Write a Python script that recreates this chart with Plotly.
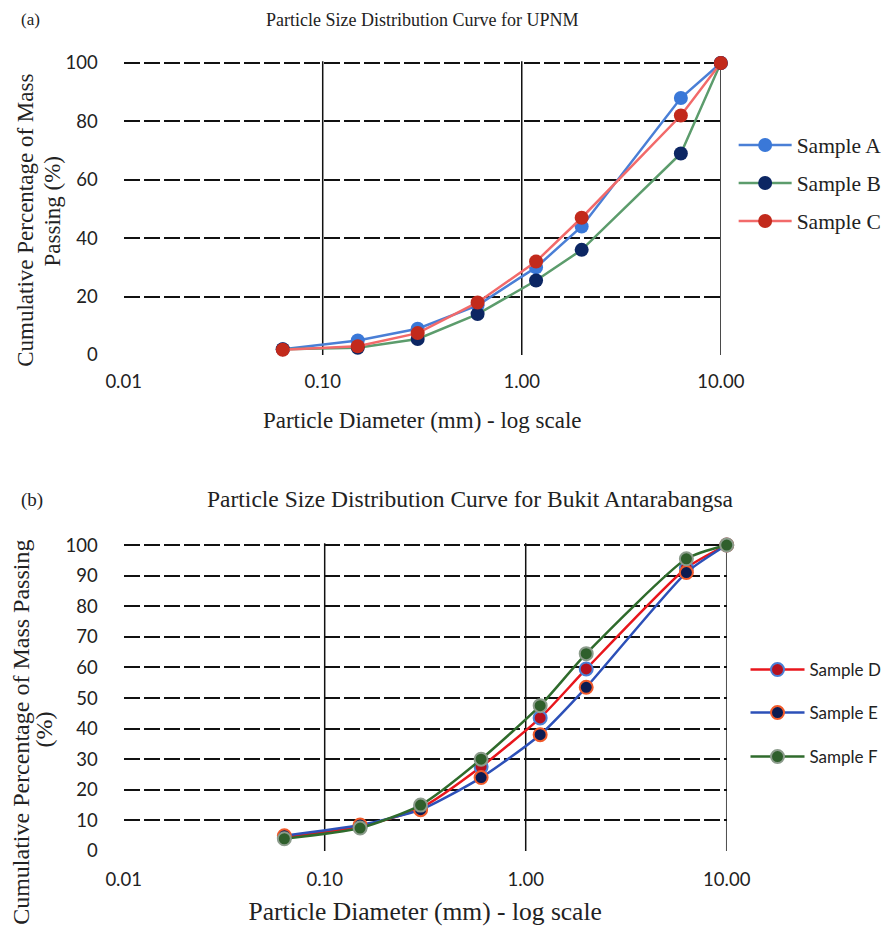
import plotly.graph_objects as go

# ---------------- data ----------------
sizes_mm = [0.063, 0.15, 0.3, 0.6, 1.18, 2.0, 6.3, 10.0]

upnm_a = [2, 5, 9, 17, 30, 44, 88, 100]
upnm_b = [2, 2.5, 5.5, 14, 25.5, 36, 69, 100]
upnm_c = [1.8, 3, 7.5, 18, 32, 47, 82, 100]

bukit_d = [4.5, 8, 14, 27.5, 43.5, 59.5, 92.5, 100]
bukit_e = [5, 8.5, 13.5, 24, 38, 53.5, 91, 100]
bukit_f = [4, 7.5, 15, 30, 47.5, 64.5, 95.5, 100]

x_tick_vals = [0.01, 0.1, 1, 10]
x_tick_text = ["0.01", "0.10", "1.00", "10.00"]
x_grid_decades = [0.1, 1, 10]
top_y_ticks = [0, 20, 40, 60, 80, 100]
bottom_y_ticks = [0, 10, 20, 30, 40, 50, 60, 70, 80, 90, 100]

# figure sized to fit inside the page body (8px default margin) without overflow
OFF = 8
W, H = 895 - 2 * OFF, 934 - 2 * OFF
SERIF = "Liberation Serif"
SANS = "Lato"
TXT = "#222222"

def px_x(p):
    return (p - OFF) / W

def px_y(p):
    return 1 - (p - OFF) / H

fig = go.Figure()

# ---------------- top panel traces ----------------
top_series = [
    ("Sample A", upnm_a, "#4a7fd6", "#3a78d8", "legend"),
    ("Sample B", upnm_b, "#5c9c6c", "#0c2663", "legend2"),
    ("Sample C", upnm_c, "#f26a6a", "#c22a1c", "legend3"),
]
for name, vals, lc, mc, lg in top_series:
    fig.add_trace(go.Scatter(
        x=sizes_mm, y=vals, name=name, mode="lines+markers",
        line=dict(color=lc, width=2.5),
        marker=dict(color=mc, size=14, line=dict(color=mc, width=0)),
        xaxis="x", yaxis="y", legend=lg, cliponaxis=False,
    ))

bottom_series = [
    ("Sample D", bukit_d, "#e8161c", "#b5111f", "#4a7fd6", "legend4"),
    ("Sample E", bukit_e, "#2c50b8", "#0c1b52", "#f15a2a", "legend5"),
    ("Sample F", bukit_f, "#2f6b2c", "#2f5f2c", "#8c9c8c", "legend6"),
]
for name, vals, lc, mc, oc, lg in bottom_series:
    fig.add_trace(go.Scatter(
        x=sizes_mm, y=vals, name=name, mode="lines+markers",
        line=dict(color=lc, width=2.5, shape="spline", smoothing=0.6),
        marker=dict(color=mc, size=13, line=dict(color=oc, width=2)),
        xaxis="x2", yaxis="y2", legend=lg, cliponaxis=False,
    ))

# ---------------- axes ----------------
common_x = dict(
    type="log", range=[-2, 1], tickvals=x_tick_vals, ticktext=x_tick_text,
    showgrid=False, zeroline=False, showline=False, ticks="", automargin=False,
)
common_y = dict(
    showgrid=True, gridcolor="#111111", gridwidth=2, griddash="16px,4px",
    zeroline=False, showline=False, ticks="", range=[0, 100.6], automargin=False,
)

fig.update_layout(
    width=W, height=H, autosize=False,
    margin=dict(l=0, r=0, t=0, b=0),
    paper_bgcolor="white", plot_bgcolor="white",
    xaxis=dict(**common_x, domain=[px_x(125), px_x(729)], anchor="y",
               ticklabelstandoff=13,
               tickfont=dict(family=SANS, size=18.5, color=TXT),
               title=dict(text="Particle Diameter (mm) - log scale",
                          font=dict(family=SERIF, size=23, color=TXT),
                          standoff=21)),
    yaxis=dict(**common_y, domain=[px_y(355), px_y(61.2)], anchor="x",
               tickvals=top_y_ticks, ticklabelstandoff=25,
               tickfont=dict(family=SANS, size=18.5, color=TXT)),
    xaxis2=dict(**common_x, domain=[px_x(125), px_x(735)], anchor="y2",
                ticklabelstandoff=15,
                tickfont=dict(family=SANS, size=18.5, color=TXT),
                title=dict(text="Particle Diameter (mm) - log scale",
                           font=dict(family=SERIF, size=25.5, color=TXT),
                           standoff=15)),
    yaxis2=dict(**common_y, domain=[px_y(851), px_y(543.2)], anchor="x2",
                tickvals=bottom_y_ticks, ticklabelstandoff=25,
                tickfont=dict(family=SANS, size=18.5, color=TXT)),
    showlegend=True,
)

# vertical decade grid lines
shapes = []
for xr, yr in (("x", "y domain"), ("x2", "y2 domain")):
    for d in x_grid_decades:
        shapes.append(dict(type="line", xref=xr, yref=yr, x0=d, x1=d, y0=0, y1=1,
                           line=dict(color="#111111", width=1.5), layer="below"))
fig.update_layout(shapes=shapes)

# legends: one per entry to control spacing
legend_pos = {
    "legend": (742, 145, SERIF, 21.5, 53),
    "legend2": (742, 183, SERIF, 21.5, 53),
    "legend3": (742, 221, SERIF, 21.5, 53),
    "legend4": (754, 670, SANS, 17, 54),
    "legend5": (754, 713, SANS, 17, 54),
    "legend6": (754, 757, SANS, 17, 54),
}
for key, (lx, ly, fam, fs, iw) in legend_pos.items():
    fig.update_layout(**{key: dict(
        x=px_x(lx), y=px_y(ly), xanchor="left", yanchor="middle",
        xref="paper", yref="paper", bgcolor="rgba(0,0,0,0)",
        font=dict(family=fam, size=fs, color=TXT), itemwidth=iw,
    )})

# panel labels, titles and y-axis titles
annots = [
    dict(text="(a)", x=px_x(19), y=px_y(20), xanchor="left", font=dict(family=SERIF, size=17)),
    dict(text="Particle Size Distribution Curve for UPNM", x=px_x(427), y=px_y(20),
         xanchor="center", font=dict(family=SERIF, size=18)),
    dict(text="(b)", x=px_x(19), y=px_y(500), xanchor="left", font=dict(family=SERIF, size=19)),
    dict(text="Particle Size Distribution Curve for Bukit Antarabangsa", x=px_x(476), y=px_y(499),
         xanchor="center", font=dict(family=SERIF, size=23.5)),
    dict(text="Cumulative Percentage of Mass", x=px_x(25), y=px_y(220), xanchor="center",
         textangle=-90, font=dict(family=SERIF, size=23)),
    dict(text="Passing (%)", x=px_x(53), y=px_y(211), xanchor="center",
         textangle=-90, font=dict(family=SERIF, size=23)),
    dict(text="Cumulative Percentage of Mass Passing", x=px_x(21), y=px_y(732), xanchor="center",
         textangle=-90, font=dict(family=SERIF, size=24)),
    dict(text="(%)", x=px_x(44), y=px_y(730), xanchor="center",
         textangle=-90, font=dict(family=SERIF, size=24)),
]
for a in annots:
    a.update(xref="paper", yref="paper", yanchor="middle", showarrow=False)
    a["font"]["color"] = TXT
fig.update_layout(annotations=annots)

fig.write_html("out.html")
